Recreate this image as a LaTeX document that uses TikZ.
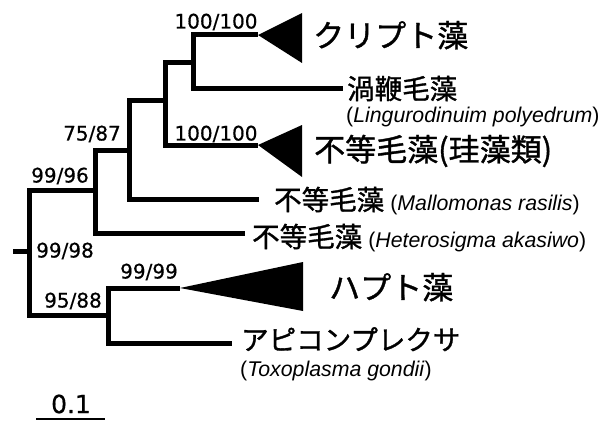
\documentclass[tikz,border=0pt]{standalone}
\usepackage{fontspec}
\setmainfont{Liberation Sans}
\newfontfamily\jpFont[FakeBold=1.2]{Noto Sans CJK JP}
\newfontfamily\numFont[FakeBold=0.6]{DejaVu Sans}
\definecolor{treeInk}{HTML}{000000}
\usetikzlibrary{calc, positioning}
\newcommand\sciText[1]{{\rmfamily\fontsize{21.3}{24}\selectfont(\textit{#1})}}

\begin{document}
\begin{tikzpicture}[x=1pt, y=-1pt,
    branch/.style={draw=treeInk, line width=5pt},
    clade/.style={fill=treeInk},
    support/.style={inner sep=0pt, font=\numFont\fontsize{20}{22}\selectfont},
    bigName/.style={anchor=base west, inner sep=0pt, font=\jpFont\fontsize{31}{36}\selectfont},
    taxonName/.style={anchor=base west, inner sep=0pt, font=\jpFont\fontsize{27.5}{30}\selectfont},
    sciName/.style={anchor=base west, inner sep=0pt, font=\fontsize{21.3}{24}\selectfont}]
  \useasboundingbox (0,0) rectangle (609,420);

  \coordinate (stub) at (13,251);
  \coordinate (root) at (29,251);
  \coordinate (nA) at (95,190);
  \coordinate (nB) at (129,150);
  \coordinate (nC) at (165,100);
  \coordinate (nD) at (193,62);
  \coordinate (nE) at (108,315);
  \coordinate (cryptoTip) at (258,35);
  \coordinate (dinoTip) at (343,88);
  \coordinate (diatomTip) at (258,145);
  \coordinate (malloTip) at (259,199);
  \coordinate (heteroTip) at (245,233);
  \coordinate (haptoTip) at (180,288);
  \coordinate (apicoTip) at (232,343);

  \draw[branch] (stub) -- (root);
  \draw[branch] (root) |- (nA);
  \draw[branch] (root) |- (nE);
  \draw[branch] (nA) |- (nB);
  \draw[branch] (nA) |- (heteroTip);
  \draw[branch] (nB) |- (nC);
  \draw[branch] (nB) |- (malloTip);
  \draw[branch] (nC) |- (nD);
  \draw[branch] (nC) |- (diatomTip);
  \draw[branch] (nD) |- (cryptoTip);
  \draw[branch] (nD) |- (dinoTip);
  \draw[branch] (nE) |- (haptoTip);
  \draw[branch] (nE) |- (apicoTip);

  \fill[clade] (cryptoTip) -- ++(44,-22) -- ++(0,50) -- cycle;
  \fill[clade] (diatomTip) -- ++(44,-20) -- ++(0,52) -- cycle;
  \fill[clade] (haptoTip) -- ++(123,-26) -- ++(0,49) -- cycle;

  \node[support] (supCrypto) at (216,22) {100/100};
  \node[support] (supDiatom) at (216,134) {100/100};
  \node[support] (supB) at (92,134) {75/87};
  \node[support] (supA) at (60,176) {99/96};
  \node[support] (supRoot) at (65,251) {99/98};
  \node[support] (supHapto) at (149,272) {99/99};
  \node[support] (supE) at (73,301) {95/88};

  \node[bigName] (cryptoName) at (313,47) {クリプト藻};
  \node[taxonName] (dinoName) at (347,99) {渦鞭毛藻};
  \node[sciName] (dinoSci) at (346,122) {(\textit{Lingurodinuim polyedrum})};
  \node[bigName] (diatomName) at (314,161) {不等毛藻(珪藻類)};
  \node[taxonName] (malloName) at (274,210) {不等毛藻 \sciText{Mallomonas rasilis}};
  \node[taxonName] (heteroName) at (252,247) {不等毛藻 \sciText{Heterosigma akasiwo}};
  \node[bigName] (haptoName) at (329,299) {ハプト藻};
  \node[taxonName] (apicoName) at (241,350) {アピコンプレクサ};
  \node[sciName] (apicoSci) at (240,376) {(\textit{Toxoplasma gondii})};

  \coordinate (barL) at (36,419);
  \coordinate (barR) at (105,419);
  \draw[draw=treeInk, line width=1.5pt] (barL) -- (barR);
  \node[inner sep=0pt, font=\numFont\fontsize{25}{27}\selectfont] (barLabel) at (71,404) {0.1};
\end{tikzpicture}
\end{document}
